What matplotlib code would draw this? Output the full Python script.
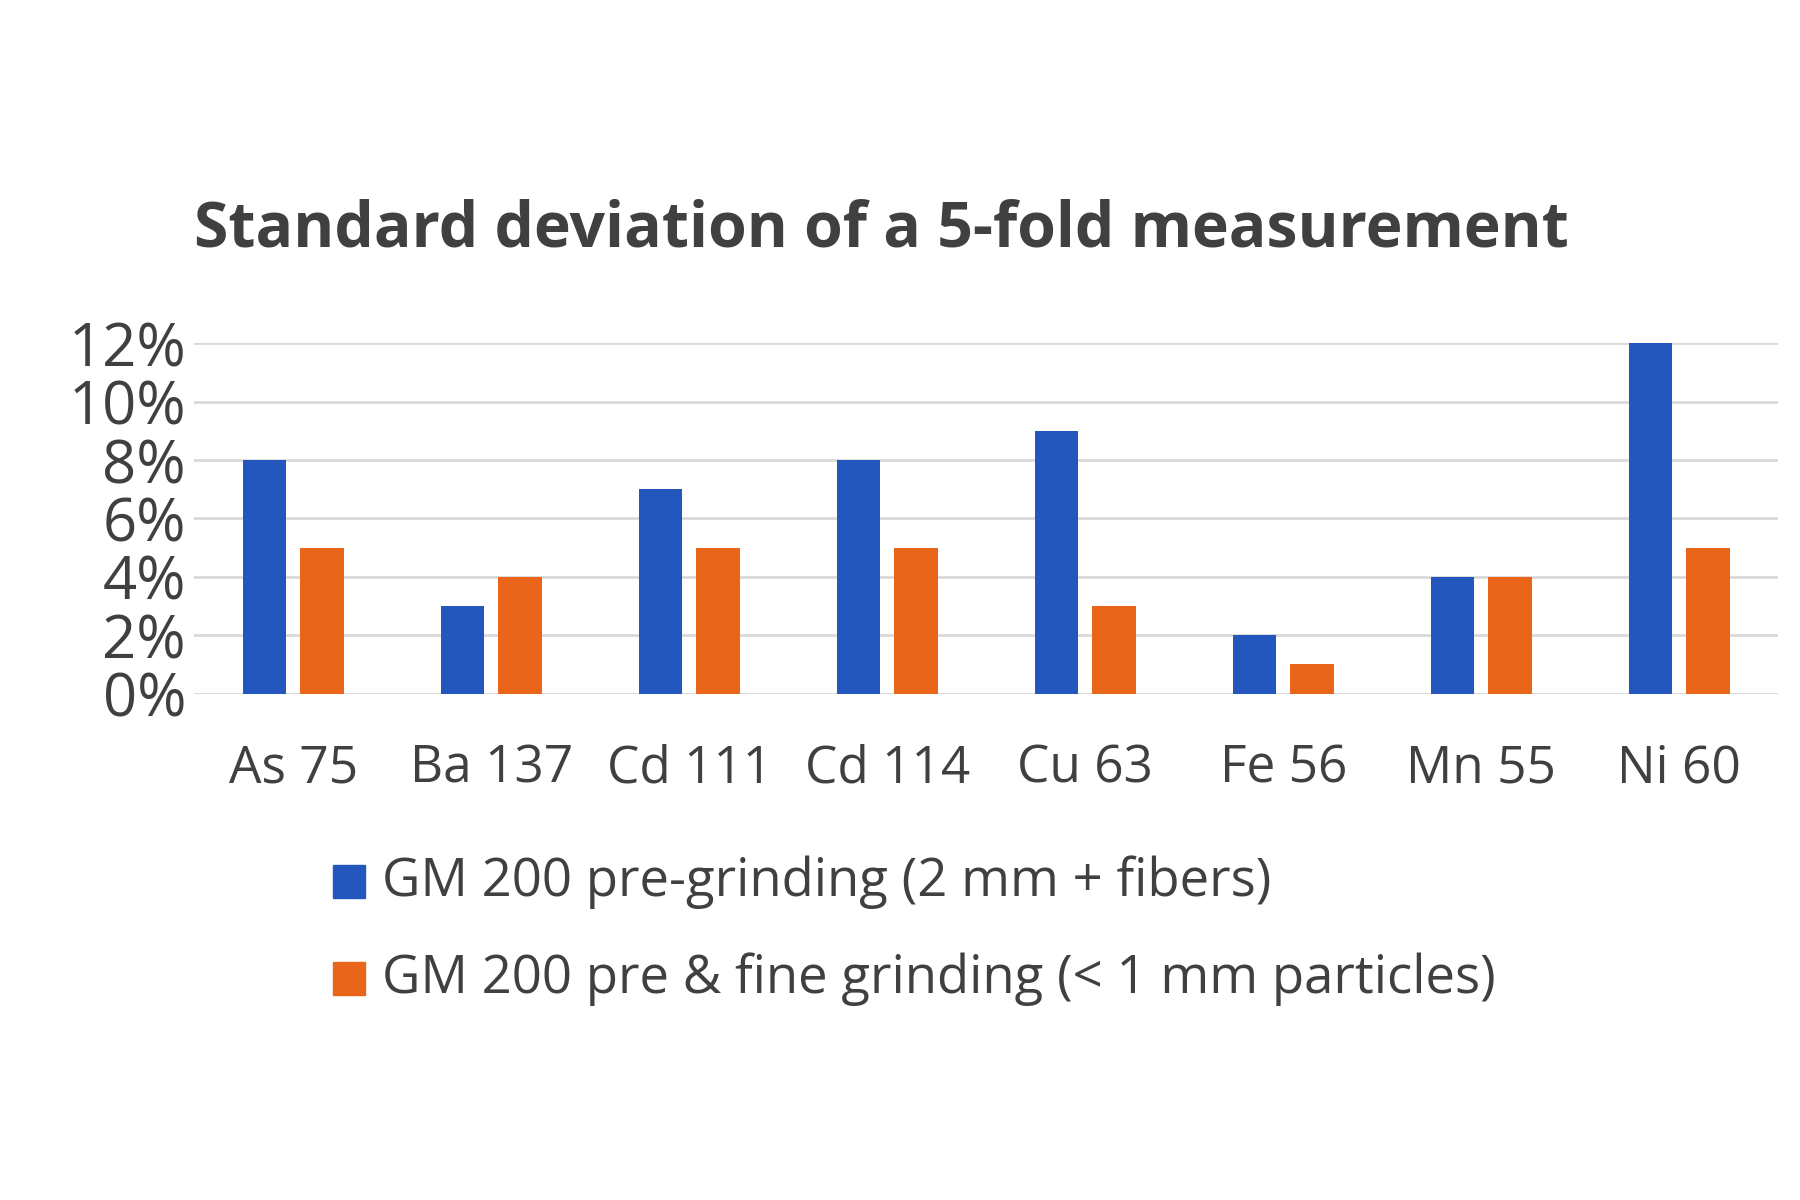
import matplotlib
matplotlib.use("Agg")
import matplotlib.pyplot as plt
from matplotlib.patches import Rectangle
import numpy as np

categories = ["As 75", "Ba 137", "Cd 111", "Cd 114", "Cu 63", "Fe 56", "Mn 55", "Ni 60"]
pre_grinding = [8, 3, 7, 8, 9, 2, 4, 12]
fine_grinding = [5, 4, 5, 5, 3, 1, 4, 5]
series_names = ["GM 200 pre-grinding (2 mm + fibers)",
                "GM 200 pre & fine grinding (< 1 mm particles)"]
colors = ["#2457BE", "#E8651A"]

plt.rcParams['font.family'] = ['Open Sans', 'DejaVu Sans']

fig = plt.figure(figsize=(18, 12), dpi=100)
ax = fig.add_axes([0.108, 0.422, 0.88, 0.292])

x = np.arange(len(categories))
w = 0.22
ax.bar(x - 0.145, pre_grinding, w, color=colors[0], zorder=3)
ax.bar(x + 0.145, fine_grinding, w, color=colors[1], zorder=3)

ax.set_xlim(-0.5, len(categories) - 0.5)
ax.set_ylim(0, 12)
ax.set_yticks(range(0, 13, 2))
ax.set_yticklabels([f"{v}%" for v in range(0, 13, 2)])
ax.set_xticks(x)
ax.set_xticklabels(categories)
ax.tick_params(axis='y', length=0, labelsize=43, colors="#404040", pad=6)
ax.tick_params(axis='x', length=0, labelsize=37, colors="#404040", pad=36)
ax.grid(axis='y', color="#D9D9D9", linewidth=2, zorder=0)
for s in ax.spines.values():
    s.set_visible(False)

fig.text(0.108, 0.808, "Standard deviation of a 5-fold measurement",
         fontsize=45, fontweight='bold', color="#404040", va='center')

for i, (name, ys) in enumerate(zip(series_names, [0.265, 0.184])):
    fig.patches.append(Rectangle((0.185, ys - 0.013), 0.018, 0.027,
                                 transform=fig.transFigure, color=colors[i]))
    fig.text(0.212, ys, name, fontsize=38, color="#404040", va='center')

fig.savefig("out.png")
